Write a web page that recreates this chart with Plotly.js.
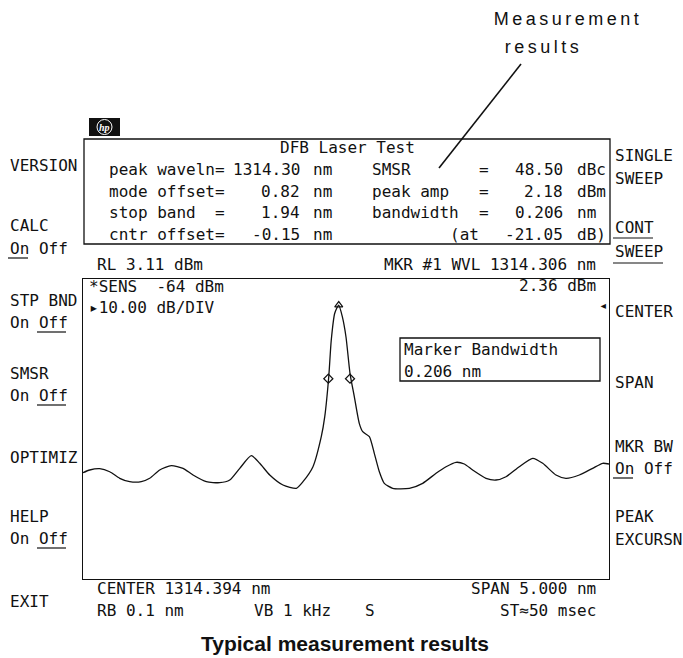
<!DOCTYPE html>
<html>
<head>
<meta charset="utf-8">
<script src="https://cdn.plot.ly/plotly-3.0.1.min.js"></script>
<style>html,body{margin:0;padding:0;background:#fff;}#chart{width:683px;height:658px;}</style>
</head>
<body>
<div id="chart"></div>
<script>
// ---------------- DATA ----------------
// Trace: wavelength (nm) vs. power (dBm)
const wavelengthNm = [1311.894, 1311.958, 1312.053, 1312.148, 1312.243, 1312.338, 1312.448, 1312.528, 1312.623, 1312.733,
  1312.845, 1312.940, 1313.066, 1313.193, 1313.289, 1313.384, 1313.494, 1313.574, 1313.669, 1313.795,
  1313.922, 1313.985, 1314.080, 1314.159, 1314.192, 1314.230, 1314.254, 1314.287, 1314.325, 1314.359,
  1314.394, 1314.432, 1314.473, 1314.520, 1314.553, 1314.616, 1314.663, 1314.711, 1314.758, 1314.838,
  1314.996, 1315.123, 1315.250, 1315.345, 1315.440, 1315.519, 1315.598, 1315.725, 1315.820, 1315.915,
  1316.041, 1316.169, 1316.264, 1316.390, 1316.485, 1316.612, 1316.739, 1316.834, 1316.894];
const powerDbm = [-45.54, -44.77, -44.40, -45.26, -47.14, -48.11, -48.11, -47.14, -44.77, -43.54,
  -44.29, -46.20, -48.11, -48.40, -47.63, -44.29, -40.69, -42.86, -46.20, -49.06,
  -50.00, -48.11, -43.83, -35.26, -29.54, -18.11, -7.63, 0.00, 2.36, -0.97,
  -6.77, -17.14, -23.83, -31.43, -33.83, -35.26, -40.00, -45.26, -48.57, -50.00,
  -50.00, -48.57, -45.71, -43.83, -42.57, -43.06, -44.77, -47.14, -47.63, -46.69,
  -43.83, -41.43, -42.86, -46.20, -47.14, -46.20, -44.29, -42.86, -43.06];
const peakMarkerNm = [1314.325];
const peakMarkerDbm = [2.36];
const bwMarkerNm = [1314.226, 1314.432];
const bwMarkerDbm = [-18.69, -18.69];

const centerNm = 1314.394;
const spanNm = 5.0;
const yRangeDbm = [-75.91, 9.8];

// Texts
const headingLines = ["Measurement", "results"];
const infoTitle = "DFB Laser Test";
const leftLabels = ["peak waveln=", "mode offset=", "stop band  =", "cntr offset="];
const leftValues = ["1314.30", "0.82", "1.94", "-0.15"];
const leftUnits = ["nm", "nm", "nm", "nm"];
const rightLabels = ["SMSR", "peak amp", "bandwidth", "(at"];
const rightEquals = ["=", "=", "=", ""];
const rightValues = ["48.50", "2.18", "0.206", "-21.05"];
const rightUnits = ["dBc", "dBm", "nm", "dB)"];
const topLeftText = "RL 3.11 dBm";
const topRightText = "MKR #1 WVL 1314.306 nm";
const sensText = "*SENS  -64 dBm";
const scaleText = "\u25B810.00 dB/DIV";
const mkrAmpText = "2.36 dBm";
const bwBoxLines = ["Marker Bandwidth", "0.206 nm"];
const bottomLeft = ["CENTER 1314.394 nm", "RB 0.1 nm"];
const bottomMid = ["VB 1 kHz", "S"];
const bottomRight = ["SPAN 5.000 nm", "ST\u224850 msec"];
const leftKeys = ["VERSION", "CALC", "On Off", "STP BND", "On Off", "SMSR", "On Off", "OPTIMIZ", "HELP", "On Off", "EXIT"];
const rightKeys = ["SINGLE", "SWEEP", "CONT", "SWEEP", "CENTER", "SPAN", "MKR BW", "On Off", "PEAK", "EXCURSN"];
const caption = "Typical measurement results";

// ---------------- LAYOUT HELPERS ----------------
const L = 83, R = 609, T = 279, B = 579;
const px = x => (x - L) / (R - L);
const py = y => (B - y) / (B - T);
const nb = s => s.replace(/ /g, '\u00A0');
const MONO = {family: 'DejaVu Sans Mono, monospace', size: 16, color: '#111'};
const annotations = [];
function txt(text, x, y, anchor, font, raw) {
  annotations.push({text: raw ? text : nb(text), x: px(x), y: py(y), xref: 'paper', yref: 'paper',
    xanchor: anchor || 'left', yanchor: 'middle', showarrow: false, font: font || MONO,
    align: anchor === 'right' ? 'right' : (anchor === 'center' ? 'center' : 'left')});
}
const shapes = [];
function rect(x0, y0, x1, y1, fill) {
  shapes.push({type: 'rect', xref: 'paper', yref: 'paper', x0: px(x0), x1: px(x1), y0: py(y0), y1: py(y1),
    line: {color: '#111', width: fill ? 0 : 1.3}, fillcolor: fill || 'rgba(0,0,0,0)'});
}
function line(x0, y0, x1, y1, w) {
  shapes.push({type: 'line', xref: 'paper', yref: 'paper', x0: px(x0), x1: px(x1), y0: py(y0), y1: py(y1),
    line: {color: '#111', width: w || 1.3}});
}

// Heading with pointer line
const headFont = {family: 'Liberation Sans Narrow, Liberation Sans, sans-serif', size: 18, color: '#111'};
txt(headingLines[0], 568, 19, 'center', headFont, true);
txt(headingLines[1], 543, 47, 'center', headFont, true);
line(521, 64, 439, 168, 1.6);

// HP logo
rect(89, 118, 120, 136, '#111');
shapes.push({type: 'circle', xref: 'paper', yref: 'paper', x0: px(97), x1: px(112), y0: py(134.5), y1: py(119.5),
  line: {color: '#fff', width: 1}});
txt('<i><b>hp</b></i>', 104.5, 127, 'center', {family: 'Liberation Serif, serif', size: 10, color: '#fff'}, true);

// Info box
rect(84, 139, 610, 244);
txt(infoTitle, 347, 148, 'center');
const X0 = 106.7, P = 9.75;
const col = c => X0 + c * P;
const rowY = [169.5, 191, 212.5, 234];
for (let i = 0; i < 4; i++) {
  txt(leftLabels[i], col(0), rowY[i], 'left');
  txt(leftValues[i], col(20), rowY[i], 'right');
  txt(leftUnits[i], col(21), rowY[i], 'left');
  txt(rightLabels[i], col(i === 3 ? 35 : 27), rowY[i], 'left');
  if (rightEquals[i]) txt(rightEquals[i], col(38), rowY[i], 'left');
  txt(rightValues[i], col(47), rowY[i], 'right');
  txt(rightUnits[i], col(48), rowY[i], 'left');
}

// Header / footer of the graticule
txt(topLeftText, 95, 264, 'left');
txt(topRightText, 598, 264, 'right');
txt(sensText, 86.5, 286, 'left');
txt(mkrAmpText, 598, 285, 'right');
txt(scaleText, 86.5, 307, 'left');
txt('\u25C2', 603, 305, 'center', {family: 'DejaVu Sans Mono', size: 14, color: '#111'});
txt(bottomLeft[0], 95, 588, 'left');
txt(bottomLeft[1], 95, 610, 'left');
txt(bottomMid[0], 252, 610, 'left');
txt(bottomMid[1], 363, 610, 'left');
txt(bottomRight[0], 598, 588, 'right');
txt(bottomRight[1], 598, 610, 'right');

// Marker bandwidth box
rect(400, 338, 600, 381);
txt(bwBoxLines[0], 402, 349, 'left');
txt(bwBoxLines[1], 402, 371, 'left');

// Softkeys
const leftKeyY = [165, 226, 248, 300, 322, 373, 395, 457, 516, 538, 601];
leftKeys.forEach((k, i) => txt(k, 8, leftKeyY[i], 'left'));
const rightKeyY = [155, 178, 227, 252, 311, 382, 446, 468, 516, 539];
rightKeys.forEach((k, i) => txt(k, 613, rightKeyY[i], 'left'));
// underlines of the active choices
line(8, 258, 28, 258, 1.2);            // CALC On
line(37, 332, 66, 332, 1.2);           // STP BND Off
line(37, 405, 66, 405, 1.2);           // SMSR Off
line(37, 548, 66, 548, 1.2);           // HELP Off
line(613, 238, 653, 238, 1.2);         // CONT
line(613, 263, 663, 263, 1.2);         // SWEEP
line(613, 478, 633, 478, 1.2);         // MKR BW On

// Caption
txt('<b>' + caption + '</b>', 345, 643, 'center',
  {family: 'Liberation Sans Narrow, Liberation Sans, sans-serif', size: 21, color: '#111'}, true);

// ---------------- TRACES ----------------
const traces = [
  {x: wavelengthNm, y: powerDbm, type: 'scatter', mode: 'lines',
   line: {color: '#111', width: 1.3, shape: 'spline', smoothing: 0.6}, hoverinfo: 'skip'},
  {x: bwMarkerNm, y: bwMarkerDbm, type: 'scatter', mode: 'markers',
   marker: {symbol: 'diamond-open', size: 7, color: '#111', line: {width: 1.2, color: '#111'}}, hoverinfo: 'skip'},
  {x: peakMarkerNm, y: peakMarkerDbm, type: 'scatter', mode: 'markers',
   marker: {symbol: 'triangle-up-open', size: 7, color: '#111', line: {width: 1.2, color: '#111'}}, hoverinfo: 'skip'}
];

const layout = {
  width: 683, height: 658,
  margin: {l: L, r: 683 - R, t: T, b: 658 - B, pad: 0},
  paper_bgcolor: '#fff', plot_bgcolor: '#fff',
  showlegend: false,
  xaxis: {range: [centerNm - spanNm / 2, centerNm + spanNm / 2], showgrid: false, zeroline: false,
    showticklabels: false, ticks: '', showline: true, mirror: true, linecolor: '#111', linewidth: 1.3, fixedrange: true},
  yaxis: {range: yRangeDbm, showgrid: false, zeroline: false, showticklabels: false, ticks: '',
    showline: true, mirror: true, linecolor: '#111', linewidth: 1.3, fixedrange: true},
  annotations: annotations,
  shapes: shapes
};

Plotly.newPlot('chart', traces, layout, {staticPlot: true, displayModeBar: false}).then(gd => {
  // widen the letter spacing of the two heading lines, as in the reference
  gd.querySelectorAll('.annotation-text').forEach(el => {
    if (headingLines.indexOf(el.textContent) >= 0) el.style.letterSpacing = '3.5px';
  });
});
</script>
</body>
</html>
